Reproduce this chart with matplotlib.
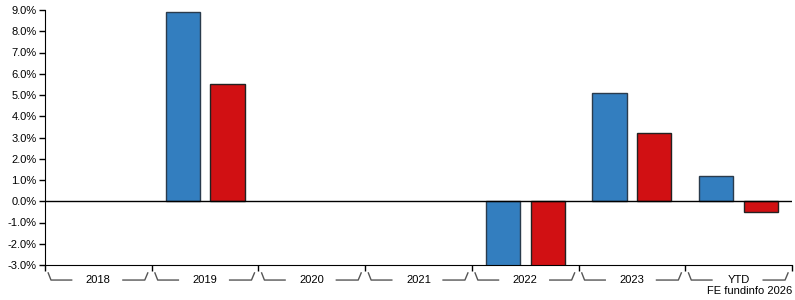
import matplotlib.pyplot as plt
import matplotlib.transforms as mtransforms
import numpy as np

plt.rcParams['font.family'] = ['Liberation Sans', 'DejaVu Sans']

# chart data (percent)
categories = ['2018', '2019', '2020', '2021', '2022', '2023', 'YTD']
fund_returns = [np.nan, 8.9, np.nan, np.nan, -13.2, 5.1, 1.2]
sector_returns = [np.nan, 5.5, np.nan, np.nan, -14.8, 3.2, -0.5]
y_ticks = [-3, -2, -1, 0, 1, 2, 3, 4, 5, 6, 7, 8, 9]

blue = '#337ebf'
red = '#d11013'

fig = plt.figure(figsize=(7.95, 3.0), dpi=100)
ax = fig.add_axes([45 / 795, 35 / 300, 747 / 795, 255 / 300])

x = np.arange(len(categories))
w = 0.32
ax.bar(x - 0.21, fund_returns, w, color=blue, edgecolor='#2a3b4c', linewidth=1)
ax.bar(x + 0.21, sector_returns, w, color=red, edgecolor='#222222', linewidth=1)

ax.axhline(0, color='black', linewidth=1)
ax.set_xlim(-0.5, len(categories) - 0.5)
ax.set_ylim(-3, 9)
ax.set_yticks(y_ticks)
ax.set_yticklabels(['%.1f%%' % v for v in y_ticks], fontsize=8)

ax.spines['top'].set_visible(False)
ax.spines['right'].set_visible(False)
ax.tick_params(axis='y', length=4, width=1, pad=2)

# group boundary ticks on the x axis
ax.set_xticks(np.arange(len(categories) + 1) - 0.5)
ax.set_xticklabels([])
ax.tick_params(axis='x', length=4, width=1)

# bracket-style group labels under the axis
trans = mtransforms.blended_transform_factory(ax.transData, ax.transAxes)
y_hi, y_lo = -0.031, -0.059
for i, lab in enumerate(categories):
    s = i - 0.5
    ax.plot([s + 0.03, s + 0.056, s + 0.25], [y_hi, y_lo, y_lo],
            color='#555555', linewidth=1, transform=trans, clip_on=False)
    ax.plot([s + 0.73, s + 0.935, s + 0.963], [y_lo, y_lo, y_hi],
            color='#555555', linewidth=1, transform=trans, clip_on=False)
    ax.text(i, y_lo, lab, transform=trans, ha='center', va='center', fontsize=8)

fig.text(792 / 795, 1 - 291 / 300, 'FE fundinfo 2026', ha='right', va='center', fontsize=8)

fig.savefig('out.png', dpi=100)
